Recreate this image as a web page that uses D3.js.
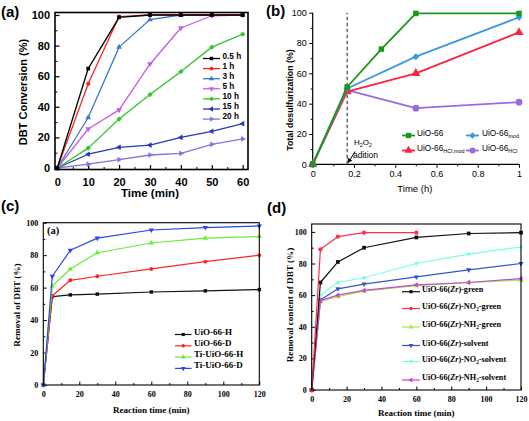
<!DOCTYPE html>
<html><head><meta charset="utf-8">
<script src="https://cdn.jsdelivr.net/npm/d3@7"></script>
<style>body{margin:0;background:#fff}svg{display:block}</style>
</head><body>
<svg id="c" width="529" height="421"></svg>
<script>
// ---------- Panel (a) ----------
const timeA = [0, 10, 20, 30, 40, 50, 60];
const labelsA = ["0.5 h", "1 h", "3 h", "5 h", "10 h", "15 h", "20 h"];
const a05 = [0, 65, 98.5, 100, 100, 100, 100];
const a1  = [0, 55, 99, 100, 100, 100, 100];
const a3  = [0, 33, 79, 97, 100, 100, 100];
const a5  = [0, 25.5, 38, 68, 91.5, 99.5, 100];
const a10 = [0, 13, 32, 48, 63, 79, 87.5];
const a15 = [0, 9, 13.5, 15, 20, 24, 29];
const a20 = [0, 2.5, 5.5, 8.5, 9.5, 15.5, 19];
const ticksAx = [0, 10, 20, 30, 40, 50, 60];
const ticksAy = [0, 20, 40, 60, 80, 100];

// ---------- Panel (b) ----------
const timeB1 = [0, 0.167, 0.333, 0.5, 1];
const timeB = [0, 0.167, 0.5, 1];
const labelsB = ["UiO-66", "UiO-66_{mod}", "UiO-66_{HCl,mod}", "UiO-66_{HCl}"];
const bUiO = [0, 51, 76, 99.5, 99.5];
const bMod = [0, 50, 71, 97];
const bHClMod = [0, 48, 60, 87];
const bHCl = [0, 49, 37, 41];
const ticksBx = [0, 0.2, 0.4, 0.6, 0.8, 1];
const ticksBy = [0, 20, 40, 60, 80, 100];

// ---------- Panel (c) ----------
const timeC = [0, 5, 15, 30, 60, 90, 120];
const labelsC = ["UiO-66-H", "UiO-66-D", "Ti-UiO-66-H", "Ti-UiO-66-D"];
const cH   = [0, 54.5, 55.5, 56, 57.3, 58, 58.8];
const cD   = [0, 55, 64.5, 67, 71.5, 76, 80];
const cTiH = [0, 61, 71.5, 81.5, 87.5, 90.5, 91.5];
const cTiD = [0, 67, 83, 90.5, 95.5, 97, 98];
const ticksCx = [0, 20, 40, 60, 80, 100, 120];
const ticksCy = [0, 20, 40, 60, 80, 100];

// ---------- Panel (d) ----------
const timeD = [0, 5, 15, 30, 60, 90, 120];
const timeD60 = [0, 5, 15, 30, 60];
const labelsD = ["UiO-66(*Zr*)-green", "UiO-66(*Zr*)-NO_{2}-green", "UiO-66(*Zr*)-NH_{2}-green",
                 "UiO-66(*Zr*)-solvent", "UiO-66(*Zr*)-NO_{2}-solvent", "UiO-66(*Zr*)-NH_{2}-solvent"];
const dGreen    = [0, 68, 81, 90, 96.5, 99, 99.5];
const dNO2Green = [0, 89, 97, 99.5, 99.5];
const dNH2Green = [0, 56, 59, 62.5, 66, 68, 69.5];
const dSolv     = [0, 57, 64, 67, 71.5, 76, 80];
const dNO2Solv  = [0, 60, 68, 71, 80, 86, 90.5];
const dNH2Solv  = [0, 56.5, 60, 63, 66.5, 68, 70.5];
const ticksDx = [0, 20, 40, 60, 80, 100, 120];
const ticksDy = [0, 20, 40, 60, 80, 100];

const svg = d3.select("#c");
const SANS = "'Liberation Sans', Arial, sans-serif";
const NARROW = "'Liberation Sans Narrow', 'Arial Narrow', 'Liberation Sans', sans-serif";
const SERIF = "'Liberation Serif', 'Times New Roman', serif";

const SYM = {
  square: [d3.symbolSquare, 0], circle: [d3.symbolCircle, 0], up: [d3.symbolTriangle, 0],
  down: [d3.symbolTriangle, 180], left: [d3.symbolTriangle, -90], right: [d3.symbolTriangle, 90],
  diamond: [d3.symbolSquare, 45]
};

function series(g, xs, ys, x, y, color, sym, size, lw) {
  const pts = xs.map((v, i) => [v, ys[i]]);
  g.append("path").datum(pts).attr("fill", "none").attr("stroke", color)
    .attr("stroke-width", lw).attr("stroke-linejoin", "round")
    .attr("d", d3.line().x(d => x(d[0])).y(d => y(d[1])));
  const [t, r] = SYM[sym];
  g.selectAll(null).data(pts).join("path")
    .attr("transform", d => `translate(${x(d[0])},${y(d[1])}) rotate(${r})`)
    .attr("d", d3.symbol(t, size)).attr("fill", color);
}

function richText(sel, str, fs) {
  const parts = str.split(/(_\{[^}]*\}|\*[^*]*\*)/).filter(s => s.length);
  let shifted = false;
  parts.forEach(p => {
    if (p.startsWith("_{")) {
      sel.append("tspan").attr("dy", fs * 0.28).attr("font-size", fs * 0.66).text(p.slice(2, -1));
      shifted = true;
    } else {
      const ts = sel.append("tspan").attr("dy", shifted ? -fs * 0.28 : 0);
      shifted = false;
      if (p.startsWith("*")) ts.attr("font-style", "italic").text(p.slice(1, -1));
      else ts.text(p);
    }
  });
}

function legendEntry(g, x0, x1, tx, yy, color, sym, size, lw, label, font, fs, weight) {
  g.append("line").attr("x1", x0).attr("x2", x1).attr("y1", yy).attr("y2", yy)
    .attr("stroke", color).attr("stroke-width", lw);
  const [t, r] = SYM[sym];
  g.append("path").attr("transform", `translate(${(x0 + x1) / 2},${yy}) rotate(${r})`)
    .attr("d", d3.symbol(t, size)).attr("fill", color);
  const txt = g.append("text").attr("x", tx).attr("y", yy).attr("dy", "0.35em")
    .attr("font-family", font).attr("font-size", fs).attr("font-weight", weight).attr("fill", "#000");
  richText(txt, label, fs);
}

function styleAxis(ax, font, fs, weight) {
  ax.select(".domain").remove();
  ax.selectAll("line").attr("stroke", "#000");
  ax.selectAll("text").attr("font-family", font).attr("font-size", fs).attr("font-weight", weight).attr("fill", "#000");
}

// ================= Panel (a) =================
{
  const g = svg.append("g");
  const x = d3.scaleLinear([0, 60], [57.3, 242.7]);
  const y = d3.scaleLinear([0, 100], [168, 15]);
  const L = 55, R = 248, T = 12.5, B = 169.5;
  const mx = d3.range(5, 60, 10), my = d3.range(10, 100, 20);
  styleAxis(g.append("g").attr("transform", `translate(0,${B})`).call(d3.axisBottom(x).tickValues(mx).tickSize(-2.5).tickFormat("")), SANS, 10, "bold");
  styleAxis(g.append("g").attr("transform", `translate(${L},0)`).call(d3.axisLeft(y).tickValues(my).tickSize(-2.5).tickFormat("")), SANS, 10, "bold");
  const ax = g.append("g").attr("transform", `translate(0,${B})`).call(d3.axisBottom(x).tickValues(ticksAx).tickSize(-4.5).tickPadding(9).tickFormat(d3.format("d")));
  styleAxis(ax, SANS, 11, "bold");
  const ay = g.append("g").attr("transform", `translate(${L},0)`).call(d3.axisLeft(y).tickValues(ticksAy).tickSize(-4.5).tickPadding(5).tickFormat(d3.format("d")));
  styleAxis(ay, SANS, 11, "bold");
  ax.selectAll("line").attr("stroke-width", 1.2);
  ay.selectAll("line").attr("stroke-width", 1.2);

  const cols = ["#000000", "#ff1f1f", "#3f79c8", "#c85ae8", "#33c433", "#2438b8", "#7a78dc"];
  const syms = ["square", "circle", "up", "down", "diamond", "left", "right"];
  const data = [a05, a1, a3, a5, a10, a15, a20];
  for (let i = data.length - 1; i >= 0; i--) series(g, timeA, data[i], x, y, cols[i], syms[i], 14, 1.3);

  g.append("rect").attr("x", L).attr("y", T).attr("width", R - L).attr("height", B - T)
    .attr("fill", "none").attr("stroke", "#000").attr("stroke-width", 1.6);

  labelsA.forEach((lab, i) => legendEntry(g, 203, 220, 222.5, 58.5 + i * 10.1, cols[i], syms[i], 12, 1.3, lab, SANS, 8.2, "bold"));

  g.append("text").attr("x", (x(0) + x(60)) / 2).attr("y", 197).attr("text-anchor", "middle")
    .attr("font-family", SANS).attr("font-size", 11.5).attr("font-weight", "bold").text("Time (min)");
  g.append("text").attr("transform", "translate(27,92) rotate(-90)").attr("text-anchor", "middle")
    .attr("font-family", SANS).attr("font-size", 11).attr("font-weight", "bold").text("DBT Conversion (%)");
  g.append("text").attr("x", 1).attr("y", 17).attr("font-family", SANS).attr("font-size", 15)
    .attr("font-weight", "bold").text("(a)");
}

// ================= Panel (b) =================
{
  const g = svg.append("g");
  const x = d3.scaleLinear([0, 1], [312.7, 519]);
  const y = d3.scaleLinear([0, 100], [164.3, 12.7]);
  const mx = d3.range(0.1, 1, 0.2), my = d3.range(10, 100, 20);
  styleAxis(g.append("g").attr("transform", `translate(0,${y(0)})`).call(d3.axisBottom(x).tickValues(mx).tickSize(2).tickFormat("")), NARROW, 9, "normal");
  styleAxis(g.append("g").attr("transform", `translate(${x(0)},0)`).call(d3.axisLeft(y).tickValues(my).tickSize(2).tickFormat("")), NARROW, 9, "normal");
  const ax = g.append("g").attr("transform", `translate(0,${y(0)})`).call(d3.axisBottom(x).tickValues(ticksBx).tickSize(3.5).tickPadding(3).tickFormat(d3.format("~g")));
  styleAxis(ax, NARROW, 9, "normal");
  const ay = g.append("g").attr("transform", `translate(${x(0)},0)`).call(d3.axisLeft(y).tickValues(ticksBy).tickSize(3.5).tickPadding(2.5).tickFormat(d3.format("d")));
  styleAxis(ay, NARROW, 9, "normal");
  g.append("line").attr("x1", x(0)).attr("x2", x(1)).attr("y1", y(0)).attr("y2", y(0)).attr("stroke", "#000").attr("stroke-width", 1.2);
  g.append("line").attr("x1", x(0)).attr("x2", x(0)).attr("y1", y(0)).attr("y2", y(100)).attr("stroke", "#000").attr("stroke-width", 1.2);
  g.append("line").attr("x1", x(0.167)).attr("x2", x(0.167)).attr("y1", y(0)).attr("y2", y(100))
    .attr("stroke", "#333").attr("stroke-width", 1.1).attr("stroke-dasharray", "3.5,2.5");

  const cols = ["#189818", "#3b98db", "#ff2140", "#9b6ae0"];
  const syms = ["square", "diamond", "up", "circle"];
  series(g, timeB, bHCl, x, y, cols[3], "circle", 36, 1.8);
  series(g, timeB, bHClMod, x, y, cols[2], "up", 36, 1.8);
  series(g, timeB, bMod, x, y, cols[1], "diamond", 24, 1.8);
  series(g, timeB1, bUiO, x, y, cols[0], "square", 30, 1.8);

  const pos = [[405, 417, 135.5], [469, 482, 135.5], [405, 417, 150.5], [469, 482, 150.5]];
  labelsB.forEach((lab, i) => {
    const [x0, tx, yy] = pos[i];
    legendEntry(g, x0 - 3, x0 + 10, tx, yy, cols[i], syms[i], i === 1 ? 20 : 28, 1.8, lab, NARROW, 8.3, "normal");
  });

  // annotation
  g.append("text").attr("x", 354).attr("y", 145).attr("font-family", NARROW).attr("font-size", 8)
    .call(t => richText(t, "H_{2}O_{2}", 8));
  g.append("text").attr("x", 353).attr("y", 158).attr("font-family", NARROW).attr("font-size", 8.5).text("adition");
  g.append("line").attr("x1", 355).attr("y1", 151.5).attr("x2", 349).attr("y2", 161.5).attr("stroke", "#000").attr("stroke-width", 1);
  g.append("path").attr("d", "M348,163 L347.6,157.6 L352.2,160.4 Z").attr("fill", "#000");

  g.append("text").attr("x", x(0.5) - 1).attr("y", 192).attr("text-anchor", "middle")
    .attr("font-family", NARROW).attr("font-size", 9.5).text("Time (h)");
  g.append("text").attr("transform", "translate(293,100) rotate(-90)").attr("text-anchor", "middle")
    .attr("font-family", SANS).attr("font-size", 8.8).attr("font-weight", "bold").text("Total desulfurization (%)");
  g.append("text").attr("x", 266).attr("y", 16).attr("font-family", SANS).attr("font-size", 15)
    .attr("font-weight", "bold").text("(b)");
}

// ================= Panel (c) =================
{
  const g = svg.append("g");
  const x = d3.scaleLinear([0, 120], [43.3, 259.3]);
  const y = d3.scaleLinear([0, 100], [385, 222.7]);
  const mx = d3.range(10, 120, 20), my = d3.range(10, 100, 20);
  styleAxis(g.append("g").attr("transform", `translate(0,${y(0)})`).call(d3.axisBottom(x).tickValues(mx).tickSize(-2).tickFormat("")), SERIF, 8, "bold");
  styleAxis(g.append("g").attr("transform", `translate(${x(0)},0)`).call(d3.axisLeft(y).tickValues(my).tickSize(-2).tickFormat("")), SERIF, 8, "bold");
  const ax = g.append("g").attr("transform", `translate(0,${y(0)})`).call(d3.axisBottom(x).tickValues(ticksCx).tickSize(-3.5).tickPadding(6).tickFormat(d3.format("d")));
  styleAxis(ax, SERIF, 8, "bold");
  const ay = g.append("g").attr("transform", `translate(${x(0)},0)`).call(d3.axisLeft(y).tickValues(ticksCy).tickSize(-3.5).tickPadding(5).tickFormat(d3.format("d")));
  styleAxis(ay, SERIF, 8, "bold");

  const cols = ["#111111", "#ff2424", "#66ee33", "#2a44ee"];
  const syms = ["square", "circle", "up", "down"];
  const data = [cH, cD, cTiH, cTiD];
  data.forEach((d, i) => series(g, timeC, d, x, y, cols[i], syms[i], 12, 1.2));

  g.append("rect").attr("x", x(0)).attr("y", y(100)).attr("width", x(120) - x(0)).attr("height", y(0) - y(100))
    .attr("fill", "none").attr("stroke", "#000").attr("stroke-width", 1.1);

  labelsC.forEach((lab, i) => legendEntry(g, 175, 191.5, 194, 334.5 + i * 11.3, cols[i], syms[i], 10, 1.2, lab, SERIF, 9, "bold"));

  g.append("text").attr("x", 47).attr("y", 233.5).attr("font-family", SERIF).attr("font-size", 10.5)
    .attr("font-weight", "bold").text("(a)");
  g.append("text").attr("x", (x(0) + x(120)) / 2).attr("y", 413).attr("text-anchor", "middle")
    .attr("font-family", SERIF).attr("font-size", 9).attr("font-weight", "bold").text("Reaction time (min)");
  g.append("text").attr("transform", "translate(20,305) rotate(-90)").attr("text-anchor", "middle")
    .attr("font-family", SERIF).attr("font-size", 9.2).attr("font-weight", "bold").text("Removal of DBT (%)");
  g.append("text").attr("x", 1).attr("y", 211).attr("font-family", SANS).attr("font-size", 15)
    .attr("font-weight", "bold").text("(c)");
}

// ================= Panel (d) =================
{
  const g = svg.append("g");
  const x = d3.scaleLinear([0, 120], [311.7, 521]);
  const y = d3.scaleLinear([0, 105], [390, 224]);
  const mx = d3.range(10, 120, 20), my = d3.range(10, 101, 20);
  styleAxis(g.append("g").attr("transform", `translate(0,${y(0)})`).call(d3.axisBottom(x).tickValues(mx).tickSize(-2).tickFormat("")), SERIF, 8, "bold");
  styleAxis(g.append("g").attr("transform", `translate(${x(0)},0)`).call(d3.axisLeft(y).tickValues(my).tickSize(-2).tickFormat("")), SERIF, 8, "bold");
  const ax = g.append("g").attr("transform", `translate(0,${y(0)})`).call(d3.axisBottom(x).tickValues(ticksDx).tickSize(-3.5).tickPadding(6).tickFormat(d3.format("d")));
  styleAxis(ax, SERIF, 8, "bold");
  const ay = g.append("g").attr("transform", `translate(${x(0)},0)`).call(d3.axisLeft(y).tickValues(ticksDy).tickSize(-3.5).tickPadding(5).tickFormat(d3.format("d")));
  styleAxis(ay, SERIF, 8, "bold");

  const cols = ["#111111", "#ff3044", "#99ee44", "#3355cc", "#77ffe6", "#cc44cc"];
  const syms = ["square", "circle", "up", "down", "diamond", "left"];
  series(g, timeD, dNO2Solv, x, y, cols[4], "diamond", 10, 1.2);
  series(g, timeD, dSolv, x, y, cols[3], "down", 12, 1.2);
  series(g, timeD, dNH2Green, x, y, cols[2], "up", 12, 1.2);
  series(g, timeD, dNH2Solv, x, y, cols[5], "left", 12, 1.2);
  series(g, timeD, dGreen, x, y, cols[0], "square", 14, 1.2);
  series(g, timeD60, dNO2Green, x, y, cols[1], "circle", 14, 1.2);

  g.append("rect").attr("x", x(0)).attr("y", y(105)).attr("width", x(120) - x(0)).attr("height", y(0) - y(105))
    .attr("fill", "none").attr("stroke", "#000").attr("stroke-width", 1.1);

  const rows = [291.7, 308.5, 327, 345.5, 361.5, 380];
  labelsD.forEach((lab, i) => legendEntry(g, 402, 420, 422, rows[i], cols[i], syms[i], 10, 1.2, lab, SERIF, 8.2, "bold"));

  g.append("text").attr("x", (x(0) + x(120)) / 2).attr("y", 416).attr("text-anchor", "middle")
    .attr("font-family", SERIF).attr("font-size", 9).attr("font-weight", "bold").text("Reaction time (min)");
  g.append("text").attr("transform", "translate(293,305) rotate(-90)").attr("text-anchor", "middle")
    .attr("font-family", SERIF).attr("font-size", 9.2).attr("font-weight", "bold").text("Removal content of DBT (%)");
  g.append("text").attr("x", 267).attr("y", 213).attr("font-family", SANS).attr("font-size", 15)
    .attr("font-weight", "bold").text("(d)");
}
</script>
</body></html>
